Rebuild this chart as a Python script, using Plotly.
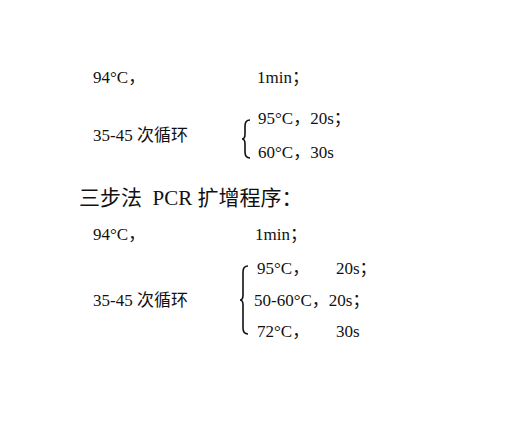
import plotly.graph_objects as go

# text lines: (text, x, y, size)
LINES = [
    ("94°C，", 92, 77, 17),
    ("1min；", 256, 77, 17),
    ("35-45 次循环", 92, 135, 17),
    ("95°C，20s；", 257, 118, 17),
    ("60°C，30s", 257, 152, 17),
    ("三步法  PCR 扩增程序：", 78, 198, 21),
    ("94°C，", 92, 234, 17),
    ("1min；", 254, 234, 17),
    ("35-45 次循环", 92, 300, 17),
    ("95°C，", 256, 268, 17),
    ("20s；", 335, 268, 17),
    ("50-60°C，20s；", 253, 300, 17),
    ("72°C，", 256, 331, 17),
    ("30s", 335, 331, 17),
]
# braces: (x, y_top, y_bottom)
BRACES = [(243, 120, 158), (241, 266, 334)]

# page body margin offset
DX, DY = 9, 8

FONT = "Liberation Serif, Times New Roman, Noto Sans CJK SC"

fig = go.Figure()
for text, x, y, size in LINES:
    fig.add_annotation(x=x - DX, y=y - DY, text=text, showarrow=False, xanchor="left",
                       yanchor="middle", font=dict(family=FONT, size=size, color="#111"))


def brace_path(x, y0, y1):
    ym = (y0 + y1) / 2
    return (f"M {x+8},{y0} Q {x+3},{y0} {x+3},{y0+6} L {x+3},{ym-5} "
            f"Q {x+3},{ym} {x},{ym} Q {x+3},{ym} {x+3},{ym+5} "
            f"L {x+3},{y1-6} Q {x+3},{y1} {x+8},{y1}")


for x, y0, y1 in BRACES:
    fig.add_shape(type="path", path=brace_path(x - DX, y0 - DY, y1 - DY), xref="x", yref="y",
                  line=dict(color="#111", width=1.6))

fig.update_layout(
    width=521, height=423, margin=dict(l=0, r=0, t=0, b=0),
    plot_bgcolor="white", paper_bgcolor="white",
    xaxis=dict(range=[0, 521], visible=False),
    yaxis=dict(range=[423, 0], visible=False),
    showlegend=False,
)
fig.write_html("out.html")
